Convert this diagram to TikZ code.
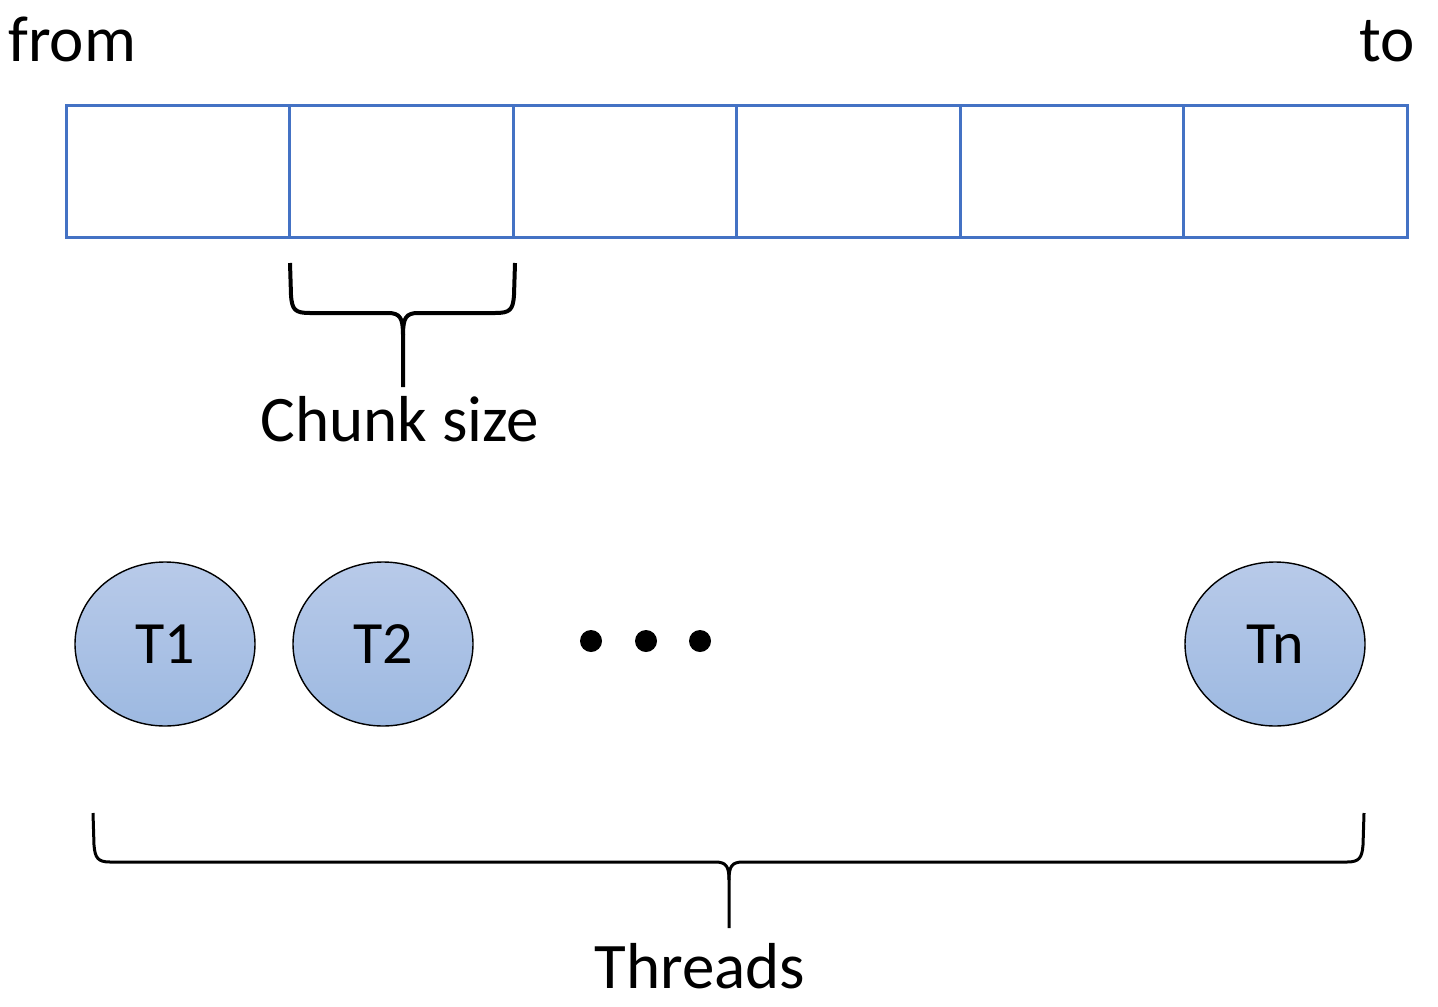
\documentclass[tikz,border=0pt]{standalone}
\usepackage{fontspec}
\setmainfont{Carlito}
\usetikzlibrary{shapes.geometric}
\definecolor{cellblue}{RGB}{68,114,196}
\definecolor{ttop}{RGB}{184,202,233}
\definecolor{tbot}{RGB}{157,185,225}
\tikzset{
  cell/.style={draw=cellblue, line width=1.5pt, minimum width=111.75pt, minimum height=65.5pt, inner sep=0pt},
  thread/.style={ellipse, draw=black, line width=0.7pt, top color=ttop, bottom color=tbot, minimum width=90pt, minimum height=82pt, inner sep=0pt, font=\fontsize{30}{36}\selectfont},
  lbl/.style={inner sep=0pt, font=\fontsize{32.5}{39}\selectfont},
  dot/.style={circle, fill=black, minimum size=11pt, inner sep=0pt},
  brace/.style={draw=black, line width=2pt, line join=round},
  bracethin/.style={draw=black, line width=1.5pt, line join=round}
}
\begin{document}
\begin{tikzpicture}[x=0.5pt,y=-0.5pt]
\useasboundingbox (0,0) rectangle (1438,1006);
% labels
\node[lbl, anchor=base west] (from) at (8,62) {from};
\node[lbl, anchor=base east] (to) at (1415,62) {to};
% cells
\node[cell] (c1) at (178,171.5) {};
\node[cell] (c2) at (401.5,171.5) {};
\node[cell] (c3) at (625,171.5) {};
\node[cell] (c4) at (848.5,171.5) {};
\node[cell] (c5) at (1072,171.5) {};
\node[cell] (c6) at (1295.5,171.5) {};
% chunk brace
\coordinate (cbl) at (290,263);
\coordinate (cbr) at (515,263);
\coordinate (cbt) at (403,387);
\draw[brace] (cbl) -- (291,295) .. controls (292,310) and (295,313) .. (310,313) -- (388,313) .. controls (400,313) and (403,318) .. (403,335) -- (cbt);
\draw[brace] (cbr) -- (514,295) .. controls (513,310) and (510,313) .. (495,313) -- (418,313) .. controls (406,313) and (403,318) .. (403,335);
\node[lbl, anchor=base] (chunk) at (400,441) {Chunk size};
% threads
\node[thread] (t1) at (165,644) {T1};
\node[thread] (t2) at (383,644) {T2};
\node[thread] (tn) at (1275,644) {Tn};
\node[dot] (d1) at (591,641) {};
\node[dot] (d2) at (646,641) {};
\node[dot] (d3) at (700,641) {};
% threads brace
\coordinate (tbl) at (93,813);
\coordinate (tbr) at (1364,813);
\coordinate (tbt) at (729,928);
\draw[bracethin] (tbl) -- (94,845) .. controls (95,858) and (98,862) .. (110,862) -- (715,862) .. controls (726,862) and (729,866) .. (729,880) -- (tbt);
\draw[bracethin] (tbr) -- (1363,845) .. controls (1362,858) and (1359,862) .. (1347,862) -- (743,862) .. controls (732,862) and (729,866) .. (729,880);
\node[lbl, anchor=base] (threads) at (700,988) {Threads};
\end{tikzpicture}
\end{document}
